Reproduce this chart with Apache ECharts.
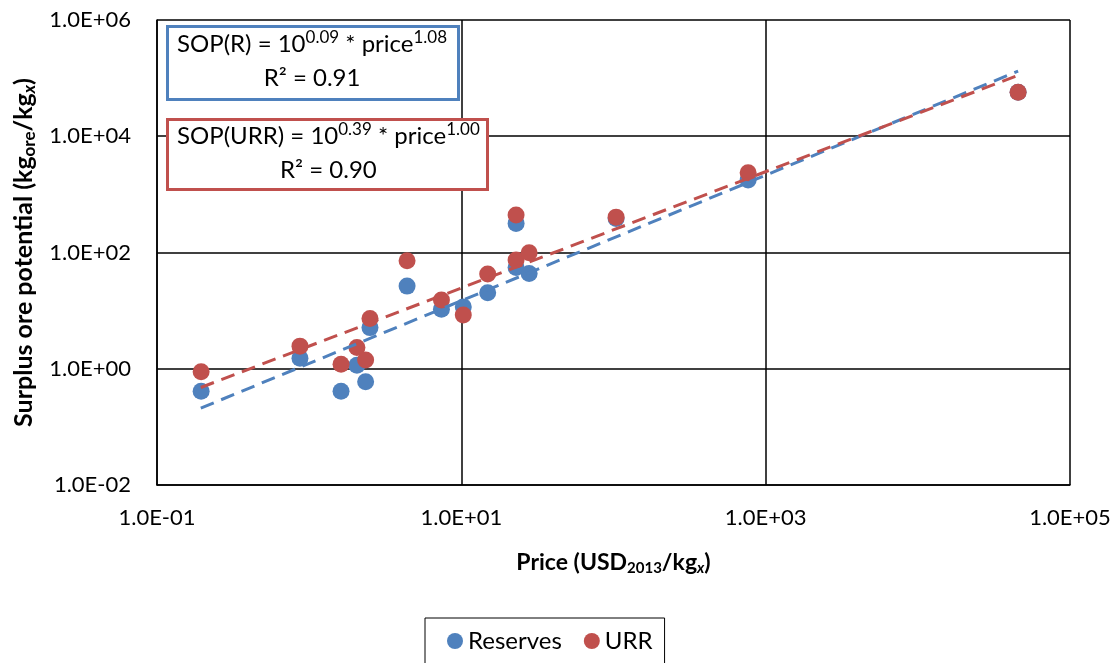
<!DOCTYPE html>
<html>
<head>
<meta charset="utf-8">
<script src="https://cdn.jsdelivr.net/npm/echarts@6/dist/echarts.min.js"></script>
<style>
  html, body { margin: 0; padding: 0; background: #fff; }
  #chart { width: 1120px; height: 663px; }
</style>
</head>
<body>
<div id="chart"></div>
<script>
// price per element (USD2013/kg)
const price = [0.195, 0.87, 1.62, 2.06, 2.35, 2.51, 4.4, 7.4, 10.3, 14.9, 22.9, 27.9, 22.9, 104, 767, 45600]
// surplus ore potential, reserves based
const reserves = [0.41, 1.52, 0.41, 1.15, 0.60, 5.1, 26.4, 10.6, 11.6, 20.3, 55, 43.7, 317, 386, 1763, 57000]
// surplus ore potential, URR based
const urr = [0.885, 2.45, 1.19, 2.32, 1.41, 7.3, 72, 15.2, 8.4, 42.5, 74, 99, 440, 406, 2355, 57000]

// trend line ends
const trendPrice = [0.194, 45600]
const reservesTrend = [0.21, 132000]
const urrTrend = [0.476, 112000]

const BLUE = '#4f81bd'
const RED = '#c0504d'
const FONT = 'Lato'

const pair = (xs, ys) => xs.map((x, i) => [x, ys[i]])

const expLabel = (v) => {
  const e = Math.round(Math.log10(v))
  const s = String(Math.abs(e)).padStart(2, '0')
  return '1.0E' + (e < 0 ? '-' : '+') + s
}

const titleRich = (size, subSize) => ({
  b: { fontFamily: FONT, fontSize: size, fontWeight: 'bold', color: '#000' },
  sub: { fontFamily: FONT, fontSize: subSize, fontWeight: 'bold', color: '#000', padding: [12, 0, 0, 0] },
  subi: { fontFamily: FONT, fontSize: subSize, fontWeight: 'bold', fontStyle: 'italic', color: '#000', padding: [12, 0, 0, 0] }
})

const boxRich = (w) => ({
  t: { fontFamily: FONT, fontSize: 24, color: '#000', lineHeight: 34 },
  s: { fontFamily: FONT, fontSize: 17, color: '#000', verticalAlign: 'top', lineHeight: 34, padding: [2, 0, 0, 0] },
  c: { fontFamily: FONT, fontSize: 24, color: '#000', lineHeight: 34, width: w, align: 'center' }
})

const myChart = echarts.init(document.getElementById('chart'))

const option = {
  backgroundColor: '#fff',
  animation: false,
  grid: {
    left: 157,
    right: 50,
    top: 20,
    bottom: 178
  },
  xAxis: {
    type: 'log',
    logBase: 10,
    min: 0.1,
    max: 100000,
    interval: 2,
    name: '{b|Price (USD}{sub|2013}{b|/kg}{subi|x}{b|)}',
    nameLocation: 'middle',
    nameGap: 64,
    nameTextStyle: { rich: titleRich(23, 15) },
    axisLine: { show: true, lineStyle: { color: '#000', width: 1.5 } },
    axisTick: { show: false },
    minorTick: { show: false },
    axisLabel: {
      formatter: expLabel,
      fontFamily: FONT,
      fontSize: 22,
      color: '#000',
      margin: 22
    },
    splitLine: { show: true, lineStyle: { color: '#000', width: 1.5 } }
  },
  yAxis: {
    type: 'log',
    logBase: 10,
    min: 0.01,
    max: 1000000,
    interval: 2,
    name: '{b|Surplus ore potential (kg}{sub|ore}{b|/kg}{subi|x}{b|)}',
    nameLocation: 'middle',
    nameGap: 118,
    nameTextStyle: { rich: titleRich(25, 17) },
    axisLine: { show: true, lineStyle: { color: '#000', width: 1.5 } },
    axisTick: { show: false },
    minorTick: { show: false },
    axisLabel: {
      formatter: expLabel,
      fontFamily: FONT,
      fontSize: 22,
      color: '#000',
      margin: 26
    },
    splitLine: { show: true, lineStyle: { color: '#000', width: 1.5 } }
  },
  legend: {
    data: ['Reserves', 'URR'],
    bottom: -6,
    left: 425,
    icon: 'circle',
    itemWidth: 16,
    itemHeight: 16,
    itemGap: 22,
    itemStyle: { opacity: 1 },
    padding: [11, 12, 16, 22],
    borderColor: '#000',
    borderWidth: 1,
    textStyle: { fontFamily: FONT, fontSize: 24, color: '#000' }
  },
  series: [
    {
      name: 'Reserves',
      type: 'scatter',
      data: pair(price, reserves),
      symbolSize: 17,
      itemStyle: { color: BLUE, opacity: 1 },
      z: 3
    },
    {
      name: 'URR',
      type: 'scatter',
      data: pair(price, urr),
      symbolSize: 17,
      itemStyle: { color: RED, opacity: 1 },
      z: 4
    },
    {
      name: 'Reserves trend',
      type: 'line',
      data: pair(trendPrice, reservesTrend),
      symbol: 'none',
      lineStyle: { color: BLUE, width: 3, type: [14, 8] },
      z: 5
    },
    {
      name: 'URR trend',
      type: 'line',
      data: pair(trendPrice, urrTrend),
      symbol: 'none',
      lineStyle: { color: RED, width: 3, type: [14, 8] },
      z: 6
    }
  ],
  graphic: [
    {
      type: 'rect',
      left: 166,
      top: 25,
      shape: { width: 291, height: 73 },
      style: { fill: '#fff', stroke: BLUE, lineWidth: 3 },
      z: 10
    },
    {
      type: 'text',
      left: 177,
      top: 27,
      style: {
        text: '{t|SOP(R) = 10}{s|0.09}{t| * price}{s|1.08}\n{c|R² = 0.91}',
        rich: boxRich(270)
      },
      z: 11
    },
    {
      type: 'rect',
      left: 166,
      top: 118,
      shape: { width: 320, height: 70 },
      style: { fill: '#fff', stroke: RED, lineWidth: 3 },
      z: 10
    },
    {
      type: 'text',
      left: 177,
      top: 119,
      style: {
        text: '{t|SOP(URR) = 10}{s|0.39}{t| * price}{s|1.00}\n{c|R² = 0.90}',
        rich: boxRich(300)
      },
      z: 11
    }
  ]
}

myChart.setOption(option)
</script>
</body>
</html>
